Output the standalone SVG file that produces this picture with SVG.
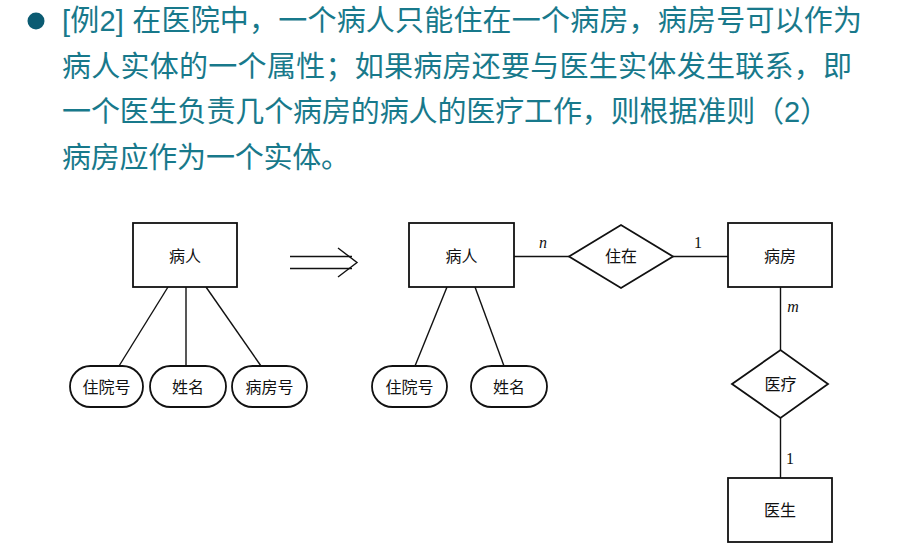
<svg xmlns="http://www.w3.org/2000/svg" width="904" height="551" viewBox="0 0 904 551">
<style>
.hdr{font-family:"Liberation Sans","Noto Sans CJK SC",sans-serif;font-size:29px;fill:#18798b}
.ent{fill:#fff;stroke:#111;stroke-width:1.8}
.lbl{font-family:"Noto Sans CJK SC",serif;font-size:16px;fill:#111;text-anchor:middle}
.card{font-family:"Liberation Serif",serif;font-size:16px;fill:#111;text-anchor:middle}
.it{font-style:italic}
.ln{stroke:#111;stroke-width:1.4;fill:none}
</style>
<rect width="904" height="551" fill="#fff"/>
<g id="header">
<circle cx="36" cy="21" r="8.5" fill="#0b5b72"/>
<text class="hdr" x="62" y="31" textLength="800" lengthAdjust="spacing">[例2] 在医院中，一个病人只能住在一个病房，病房号可以作为</text>
<text class="hdr" x="62" y="76.5" textLength="790" lengthAdjust="spacing">病人实体的一个属性；如果病房还要与医生实体发生联系，即</text>
<text class="hdr" x="62" y="122" textLength="767" lengthAdjust="spacing">一个医生负责几个病房的病人的医疗工作，则根据准则（2）</text>
<text class="hdr" x="62" y="167.5" textLength="288" lengthAdjust="spacing">病房应作为一个实体。</text>
</g>
<g id="connectors">
<line class="ln" x1="168" y1="287" x2="119" y2="366"/>
<line class="ln" x1="186" y1="287" x2="186" y2="366"/>
<line class="ln" x1="206" y1="287" x2="261" y2="366"/>
<line class="ln" x1="290" y1="256.5" x2="352" y2="256.5"/>
<line class="ln" x1="290" y1="268.5" x2="352" y2="268.5"/>
<polyline class="ln" points="338,248 357,262.5 338,277"/>
<line class="ln" x1="447" y1="287" x2="415" y2="366"/>
<line class="ln" x1="475" y1="287" x2="504" y2="366"/>
<line class="ln" x1="514" y1="256.5" x2="569" y2="256.5"/>
<line class="ln" x1="673" y1="256.5" x2="728" y2="256.5"/>
<line class="ln" x1="780.5" y1="287" x2="780.5" y2="350"/>
<line class="ln" x1="780.5" y1="418" x2="780.5" y2="478"/>
<text class="card it" x="543" y="248">n</text>
<text class="card" x="698" y="248">1</text>
<text class="card it" x="793" y="312">m</text>
<text class="card" x="790" y="464">1</text>
</g>
<g id="patient1">
<rect class="ent" x="133" y="223" width="104" height="64"/>
<text class="lbl" x="185" y="262">病人</text>
</g>
<g id="attr-zyh1">
<rect class="ent" x="70" y="366" width="73" height="41" rx="20.5"/>
<text class="lbl" x="106.5" y="392.5">住院号</text>
</g>
<g id="attr-xm1">
<rect class="ent" x="150" y="366" width="76" height="41" rx="20.5"/>
<text class="lbl" x="188" y="392.5">姓名</text>
</g>
<g id="attr-bfh1">
<rect class="ent" x="232" y="366" width="75" height="41" rx="20.5"/>
<text class="lbl" x="269.5" y="392.5">病房号</text>
</g>
<g id="patient2">
<rect class="ent" x="409" y="223" width="105" height="64"/>
<text class="lbl" x="461.5" y="262">病人</text>
</g>
<g id="attr-zyh2">
<rect class="ent" x="372" y="366" width="75" height="41" rx="20.5"/>
<text class="lbl" x="409.5" y="392.5">住院号</text>
</g>
<g id="attr-xm2">
<rect class="ent" x="471" y="366" width="76" height="41" rx="20.5"/>
<text class="lbl" x="509" y="392.5">姓名</text>
</g>
<g id="rel-zhuzai">
<polygon class="ent" points="569,256.5 621,225 673,256.5 621,288"/>
<text class="lbl" x="621" y="262">住在</text>
</g>
<g id="ward">
<rect class="ent" x="728" y="223" width="104" height="64"/>
<text class="lbl" x="780" y="262">病房</text>
</g>
<g id="rel-yiliao">
<polygon class="ent" points="732,384 780.5,350 828,384 780.5,418"/>
<text class="lbl" x="780.5" y="389.5">医疗</text>
</g>
<g id="doctor">
<rect class="ent" x="728" y="478" width="104" height="64"/>
<text class="lbl" x="780" y="516">医生</text>
</g>
</svg>
